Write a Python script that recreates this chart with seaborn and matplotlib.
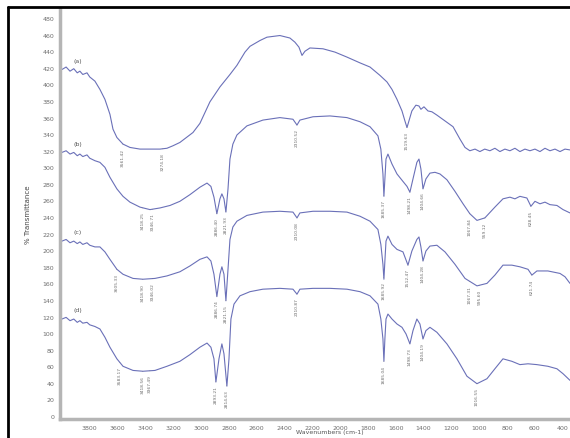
import numpy as np
import matplotlib
matplotlib.use("Agg")
import matplotlib.pyplot as plt
import seaborn as sns
from matplotlib.lines import Line2D

# spectrum (a)
wn_a = [4000, 3970, 3942, 3915, 3890, 3871, 3850, 3820, 3800, 3763, 3727, 3691, 3655, 3633, 3605,
        3561, 3511, 3439, 3367, 3295, 3245, 3202, 3152, 3058, 3008, 2936, 2864, 2792, 2742, 2684,
        2648, 2576, 2526, 2433, 2361, 2325, 2296, 2274, 2253, 2217, 2123, 2037, 1951, 1857, 1785,
        1714, 1663, 1627, 1591, 1555, 1534, 1519, 1505, 1484, 1455, 1433, 1419, 1397, 1368, 1340,
        1304, 1246, 1188, 1138, 1102, 1067, 1030, 995, 960, 923, 887, 851, 815, 779, 743, 707, 671,
        635, 599, 563, 527, 491, 455, 419, 383, 347]
t_a = [418, 421, 416, 419, 414, 416, 412, 414, 409, 404, 394, 382, 364, 346, 336,
       328, 324, 322, 322, 322, 323, 326, 330, 342, 353, 379, 397, 412, 423, 439,
       446, 453, 457, 459, 456, 451, 445, 435, 440, 444, 443, 439, 433, 426, 421,
       411, 403, 394, 382, 368, 356, 348, 356, 368, 375, 374, 370, 373, 368, 367,
       363, 356, 349, 334, 324, 320, 322, 319, 322, 320, 323, 319, 322, 320, 323, 319,
       322, 320, 322, 319, 323, 320, 322, 319, 322, 321]

# spectrum (b)
wn_b = [4000, 3970, 3942, 3915, 3890, 3871, 3850, 3820, 3800, 3763, 3727, 3691, 3655, 3605, 3561,
        3511, 3439, 3367, 3295, 3223, 3152, 3080, 3008, 2957, 2929, 2907, 2886, 2864, 2850, 2835,
        2821, 2806, 2792, 2771, 2742, 2670, 2555, 2433, 2339, 2310, 2289, 2195, 2073, 1951, 1857,
        1785, 1728, 1707, 1692, 1685, 1678, 1670, 1656, 1627, 1591, 1548, 1519, 1498, 1476, 1448,
        1433, 1419, 1404, 1383, 1354, 1318, 1282, 1232, 1174, 1116, 1067, 1016, 959, 887, 829,
        779, 743, 707, 657, 628, 599, 563, 527, 491, 441, 397, 347]
t_b = [318, 320, 316, 318, 314, 316, 313, 315, 311, 308, 306, 300, 288, 274, 265,
       258, 252, 249, 251, 254, 259, 267, 276, 281, 277, 264, 244, 262, 268, 262,
       246, 274, 310, 328, 339, 350, 357, 360, 358, 351, 357, 361, 362, 360, 355,
       349, 338, 322, 292, 265, 286, 310, 316, 304, 292, 283, 277, 270, 286, 306,
       310, 298, 274, 286, 293, 294, 292, 285, 271, 256, 244, 236, 239, 252, 262,
       264, 262, 265, 263, 253, 259, 256, 258, 255, 254, 249, 245]

# spectrum (c)
wn_c = [4000, 3970, 3942, 3915, 3890, 3871, 3850, 3820, 3800, 3763, 3727, 3691, 3655, 3605, 3561,
        3489, 3418, 3331, 3245, 3152, 3080, 3008, 2957, 2929, 2907, 2886, 2864, 2850, 2835, 2821,
        2806, 2792, 2771, 2742, 2670, 2555, 2433, 2339, 2310, 2289, 2195, 2073, 1951, 1857, 1785,
        1728, 1707, 1692, 1685, 1678, 1670, 1656, 1627, 1591, 1548, 1512, 1484, 1448, 1433, 1419,
        1404, 1383, 1354, 1304, 1246, 1174, 1102, 1016, 944, 887, 829, 765, 707, 649, 621, 585,
        506, 419, 383, 347]
t_c = [211, 213, 209, 211, 208, 210, 207, 209, 206, 204, 204, 198, 189, 177, 171,
       166, 165, 166, 169, 174, 181, 189, 192, 187, 171, 144, 171, 180, 171, 139,
       177, 213, 228, 235, 242, 246, 247, 246, 239, 245, 247, 247, 246, 241, 235,
       225, 207, 183, 165, 187, 211, 217, 207, 201, 198, 182, 199, 213, 216, 204,
       187, 199, 205, 206, 198, 183, 166, 157, 160, 170, 182, 182, 180, 177, 170, 175,
       175, 172, 168, 160]

# spectrum (d)
wn_d = [4000, 3970, 3942, 3915, 3890, 3871, 3850, 3820, 3800, 3763, 3727, 3691, 3655, 3605, 3561,
        3489, 3418, 3331, 3245, 3152, 3080, 3008, 2957, 2929, 2907, 2893, 2871, 2850, 2835, 2814,
        2799, 2785, 2763, 2720, 2648, 2555, 2433, 2339, 2310, 2289, 2195, 2073, 1951, 1857, 1785,
        1728, 1707, 1692, 1685, 1678, 1670, 1656, 1627, 1591, 1555, 1526, 1498, 1476, 1448, 1426,
        1404, 1383, 1354, 1304, 1232, 1160, 1088, 1016, 944, 887, 829, 765, 707, 649, 585, 506,
        441, 397, 347]
t_d = [117, 119, 115, 117, 113, 115, 112, 113, 110, 108, 105, 95, 83, 69, 60,
       55, 54, 55, 60, 66, 74, 83, 88, 83, 69, 41, 69, 87, 75, 36,
       69, 117, 135, 145, 150, 153, 154, 153, 147, 153, 154, 154, 153, 150, 145,
       135, 117, 93, 66, 93, 117, 123, 117, 111, 107, 99, 87, 103, 117, 111,
       93, 103, 107, 101, 87, 69, 48, 39, 45, 57, 69, 66, 62, 63, 62, 60,
       57, 51, 43]

spectra = [("(a)", wn_a, t_a), ("(b)", wn_b, t_b), ("(c)", wn_c, t_c), ("(d)", wn_d, t_d)]

# labelled band positions for each spectrum
peaks_a = [3561.42, 3274.18, 1519.63]
peaks_b = [3418.25, 3346.71, 2886.40, 2821.93, 2310.52, 1685.37, 1498.21, 1404.66, 1067.84, 959.12, 628.45]
peaks_c = [3605.33, 3418.90, 3346.02, 2886.74, 2821.15, 2310.08, 1685.92, 1512.47, 1404.28, 1067.31, 995.60, 621.74]
peaks_d = [3583.17, 3418.56, 3367.49, 2893.21, 2814.63, 2310.87, 1685.04, 1498.73, 1404.19, 1016.55]
peak_sets = [peaks_a, peaks_b, peaks_c, peaks_d]

x_ticks = [3800, 3600, 3400, 3200, 3000, 2800, 2600, 2400, 2200, 2000, 1800, 1600, 1400, 1200, 1000, 800, 600, 400]
y_ticks = list(range(0, 481, 20))

sns.set_style("white")
fig = plt.figure(figsize=(5.7, 4.39), dpi=100)
ax = fig.add_axes([60 / 570, 1 - 420 / 439, 510 / 570, 410 / 439])

line_col = "#6a70b8"
txt_col = "#6e6e6e"
for name, wn, t in spectra:
    sns.lineplot(x=wn, y=t, ax=ax, color=line_col, linewidth=0.8, sort=False, estimator=None)
    ax.text(3885, t[0] + 8, name, fontsize=4.5, color="#555555", ha="center", va="bottom")

for (name, wn, t), peaks in zip(spectra, peak_sets):
    wn_arr = np.array(wn)[::-1]
    t_arr = np.array(t)[::-1]
    for p in peaks:
        yv = np.interp(p, wn_arr, t_arr)
        ax.annotate(f"{p:.2f}", xy=(p, yv), xytext=(0, -2.5), textcoords="offset points",
                    rotation=90, ha="center", va="top", fontsize=3.2, color=txt_col,
                    arrowprops=dict(arrowstyle="-", color=txt_col, lw=0.4, shrinkA=0, shrinkB=0))

ax.set_xlim(4014, 347)
ax.set_ylim(-3.6, 491)
ax.set_xticks(x_ticks)
ax.set_xticklabels([f"{v}" for v in x_ticks])
ax.set_yticks(y_ticks)
ax.set_yticklabels([f"{v}" for v in y_ticks])
ax.tick_params(axis="both", labelsize=4.5, colors=txt_col, length=2, width=0.6, pad=2)
for s in ["top", "right"]:
    ax.spines[s].set_visible(False)
for s in ["left", "bottom"]:
    ax.spines[s].set_color("#b5b5b5")
    ax.spines[s].set_linewidth(2.5)

ax.set_xlabel("Wavenumbers (cm-1)", fontsize=4.5, color="#555555", labelpad=2)
ax.set_ylabel("% Transmittance", fontsize=5, color="#444444", labelpad=8)
ax.xaxis.set_label_coords(0.53, -0.025)

# outer black frame (left and top edges of the pasted image)
fig.add_artist(Line2D([8 / 570, 8 / 570], [0, 1 - 8 / 439], color="black", lw=2))
fig.add_artist(Line2D([8 / 570, 1], [1 - 8 / 439, 1 - 8 / 439], color="black", lw=2))

fig.savefig("out.png", dpi=100)
